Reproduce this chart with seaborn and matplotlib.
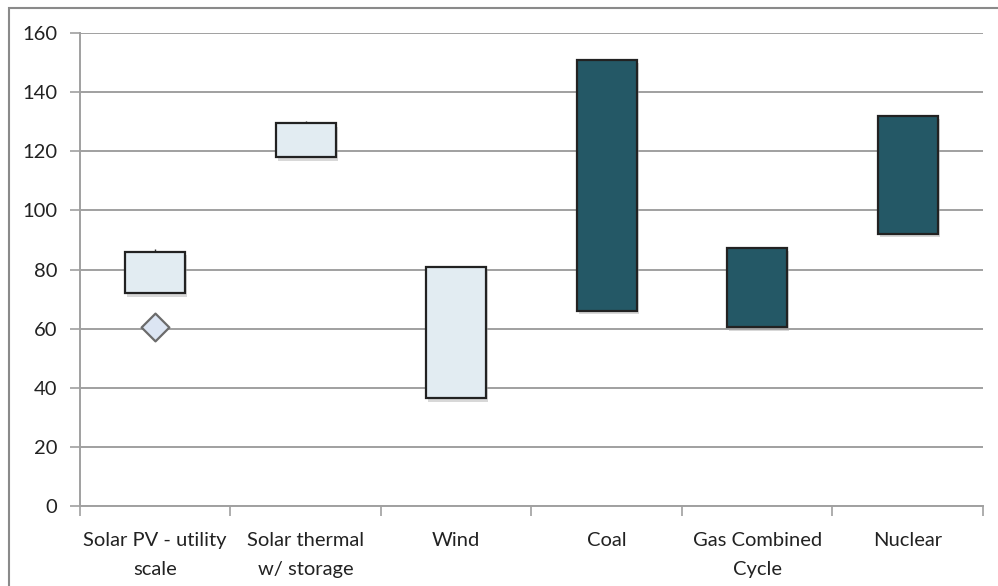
import matplotlib
matplotlib.use("Agg")
import matplotlib.pyplot as plt
import matplotlib.patheffects as pe
from matplotlib.patches import Rectangle
import numpy as np
import pandas as pd
import seaborn as sns

# categorias e faixas (min / max)
categories = ["Solar PV - utility\nscale", "Solar thermal\nw/ storage", "Wind",
              "Coal", "Gas Combined\nCycle", "Nuclear"]
low_values = [72, 118, 36.5, 66, 60.5, 92]
high_values = [86, 129.5, 81, 151, 87.3, 132]
whisker_top = [86.8, 130.3, 81, 151, 87.3, 132]
bar_colors = ["#E2ECF2", "#E2ECF2", "#E2ECF2", "#245866", "#245866", "#245866"]
marker_category = ["Solar PV - utility\nscale"]
marker_values = [60.6]

df = pd.DataFrame({"category": categories,
                   "low": low_values,
                   "span": np.array(high_values) - np.array(low_values)})

sns.set_style("white")
plt.rcParams["font.family"] = ["Lato", "DejaVu Sans"]

fig = plt.figure(figsize=(9.98, 5.86), dpi=100)
ax = fig.add_axes([0.080, 0.1365, 0.905, 0.8072])

sns.barplot(data=df, x="category", y="span", bottom=df["low"], width=0.4,
            color="#E2ECF2", edgecolor="#222222", linewidth=1.6, ax=ax, zorder=3)
for patch, c in zip(ax.patches, bar_colors):
    patch.set_facecolor(c)
    patch.set_path_effects([pe.SimplePatchShadow(offset=(1.5, -2.5), shadow_rgbFace="#aaaaaa", alpha=0.45),
                            pe.Normal()])

# pequenas linhas acima das barras
ax.vlines(range(len(categories)), high_values, whisker_top, color="#333333", lw=1, zorder=2)

sns.scatterplot(x=marker_category, y=marker_values, marker="D", s=200,
                color="#DCE5F3", edgecolor="#6b6b6b", linewidth=1.6, ax=ax, zorder=4)

ax.set_ylim(0, 160)
ax.set_xlim(-0.5, 5.5)
ax.set_yticks(range(0, 161, 20))
ax.yaxis.grid(True, color="#a0a0a0", lw=1.4)
ax.set_axisbelow(True)
ax.set_xlabel("")
ax.set_ylabel("")

for s in ["top", "right"]:
    ax.spines[s].set_visible(False)
ax.spines["left"].set_color("#a0a0a0")
ax.spines["bottom"].set_color("#a0a0a0")
ax.spines["left"].set_linewidth(1.4)
ax.spines["bottom"].set_linewidth(1.4)

ax.set_xticks(np.arange(-0.5, 6, 1), minor=True)
ax.tick_params(axis="x", which="major", length=0, pad=19, labelsize=14.5, colors="#222222")
ax.tick_params(axis="x", which="minor", length=7, color="#a0a0a0", width=1.2)
ax.tick_params(axis="y", which="major", length=7, color="#a0a0a0", width=1.2, pad=9,
               labelsize=14.5, labelcolor="#222222")
ax.tick_params(axis="y", which="major", left=True)
ax.tick_params(axis="x", which="minor", bottom=True)
for lbl in ax.get_xticklabels():
    lbl.set_linespacing(1.8)

# moldura do gráfico
fig.patches.append(Rectangle((0.009, -0.2), 1.2, 1.1863, transform=fig.transFigure,
                             fill=False, edgecolor="#8a8a8a", lw=1.5))

fig.savefig("out.png", dpi=100)
